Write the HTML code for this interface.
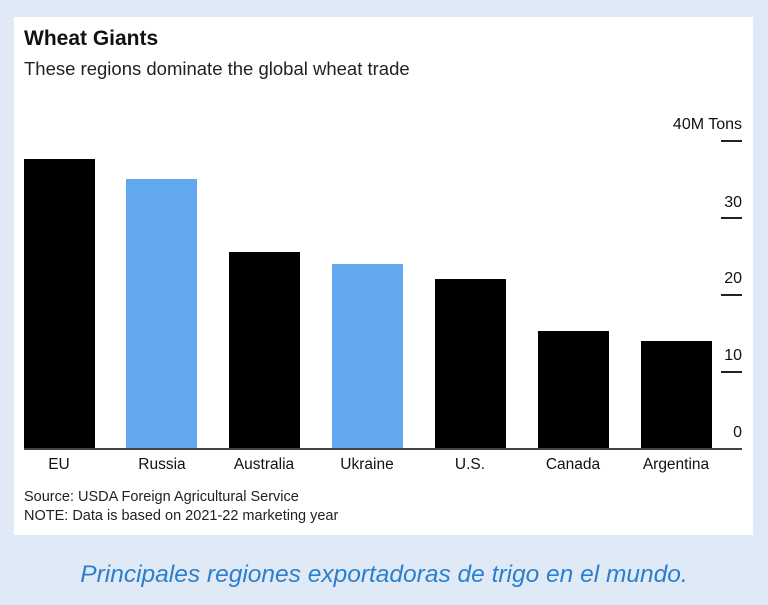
<!DOCTYPE html>
<html><head><style>
body{margin:0;width:768px;height:605px;background:#e0eaf6;font-family:"Liberation Sans",sans-serif;position:relative;overflow:hidden}
.card{position:absolute;left:14px;top:17px;width:739px;height:518px;background:#fff}
.a{position:absolute;white-space:nowrap}
.bar{position:absolute;width:71px;bottom:156px;background:#000}
.b{background:#62a8ef}
.tick{position:absolute;left:721px;width:21px;height:2px;background:#222}
.yl{position:absolute;right:26px;font-size:16px;color:#111;text-align:right}
.cl{position:absolute;top:456px;width:100px;text-align:center;font-size:15.5px;color:#111}
</style></head><body>
<div class="card"></div>
<div class="a" style="left:24px;top:27px;font-size:21px;font-weight:bold;color:#111">Wheat Giants</div>
<div class="a" style="left:24px;top:58px;font-size:18.5px;color:#222">These regions dominate the global wheat trade</div>
<div class="bar" style="left:24px;top:159px;height:290px"></div>
<div class="bar b" style="left:126px;top:179px;height:270px"></div>
<div class="bar" style="left:229px;top:252px;height:197px"></div>
<div class="bar b" style="left:332px;top:264px;height:185px"></div>
<div class="bar" style="left:435px;top:279px;height:170px"></div>
<div class="bar" style="left:538px;top:331px;height:118px"></div>
<div class="bar" style="left:641px;top:341px;height:108px"></div>
<div class="a" style="left:24px;top:448px;width:718px;height:2px;background:#444"></div>
<div class="tick" style="top:140px"></div><div class="tick" style="top:217px"></div><div class="tick" style="top:294px"></div><div class="tick" style="top:371px"></div>
<div class="yl" style="top:116px">40M Tons</div>
<div class="yl" style="top:194px">30</div>
<div class="yl" style="top:270px">20</div>
<div class="yl" style="top:347px">10</div>
<div class="yl" style="top:424px">0</div>
<div class="cl" style="left:9px">EU</div>
<div class="cl" style="left:112px">Russia</div>
<div class="cl" style="left:214px">Australia</div>
<div class="cl" style="left:317px">Ukraine</div>
<div class="cl" style="left:420px">U.S.</div>
<div class="cl" style="left:523px">Canada</div>
<div class="cl" style="left:626px">Argentina</div>
<div class="a" style="left:24px;top:489px;font-size:14.5px;color:#222">Source: USDA Foreign Agricultural Service</div>
<div class="a" style="left:24px;top:508px;font-size:14.5px;color:#222">NOTE: Data is based on 2021-22 marketing year</div>
<div class="a" style="left:0;width:768px;text-align:center;top:561px;font-size:24.5px;font-style:italic;color:#2b7fcc">Principales regiones exportadoras de trigo en el mundo.</div>
</body></html>
